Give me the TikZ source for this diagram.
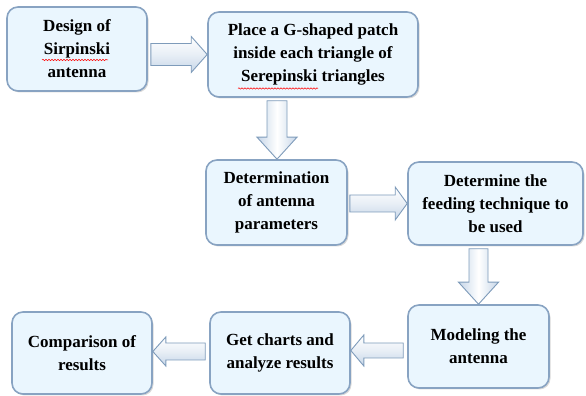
\documentclass[tikz,border=0pt]{standalone}
\usepackage{fontspec}
\setmainfont{Liberation Serif}
\usetikzlibrary{calc,shadows,decorations.pathmorphing}
\definecolor{boxfill}{HTML}{EAF6FE}
\definecolor{boxedge}{HTML}{88A3C2}
\definecolor{arrowedge}{HTML}{7E9BBA}
\definecolor{arrowfill}{HTML}{C6D6E8}
\newcommand{\rblock}[5]{% start, end, shaft half, head half, head length (horizontal)
  \draw[barrowh] let \p1=(#1), \p2=(#2) in
    (\x1,\y1+#3) -- (\x2-#5,\y1+#3) -- (\x2-#5,\y1+#4) -- (\x2,\y1)
    -- (\x2-#5,\y1-#4) -- (\x2-#5,\y1-#3) -- (\x1,\y1-#3) -- cycle;}
\newcommand{\lblock}[5]{%
  \draw[barrowh] let \p1=(#1), \p2=(#2) in
    (\x1,\y1+#3) -- (\x2+#5,\y1+#3) -- (\x2+#5,\y1+#4) -- (\x2,\y1)
    -- (\x2+#5,\y1-#4) -- (\x2+#5,\y1-#3) -- (\x1,\y1-#3) -- cycle;}
\newcommand{\dblock}[5]{%
  \draw[barrowv] let \p1=(#1), \p2=(#2) in
    (\x1-#3,\y1) -- (\x1-#3,\y2+#5) -- (\x1-#4,\y2+#5) -- (\x1,\y2)
    -- (\x1+#4,\y2+#5) -- (\x1+#3,\y2+#5) -- (\x1+#3,\y1) -- cycle;}
\tikzset{
  flowbox/.style={draw=boxedge, line width=1.6pt, fill=boxfill, rounded corners=11pt,
    align=center, inner sep=0pt,
    font=\fontsize{17}{23}\selectfont\bfseries,
    drop shadow={opacity=0.3, shadow xshift=1.5pt, shadow yshift=-1.5pt}},
  barrowh/.style={draw=arrowedge, line width=0.9pt, line join=miter,
    top color=white, bottom color=arrowfill, middle color=white!60!arrowfill},
  barrowv/.style={draw=arrowedge, line width=0.9pt, line join=miter,
    left color=arrowfill, right color=arrowfill, middle color=white},
  squiggle/.style={draw=red, line width=0.5pt,
    decorate, decoration={snake, segment length=3pt, amplitude=0.7pt}}
}
\begin{document}
\begin{tikzpicture}[x=1pt,y=1pt]
\useasboundingbox (0,0) rectangle (586,396);
\node[flowbox, minimum width=140pt, minimum height=84pt] (b1) at (77,347) {Design of\\Sirpinski\\antenna};
\node[flowbox, minimum width=210pt, minimum height=85pt] (b2) at (313,341.5) {Place a G-shaped patch\\inside each triangle of\\Serepinski triangles};
\node[flowbox, minimum width=141pt, minimum height=85pt] (b3) at (276.5,193.5) {Determination\\of antenna\\parameters};
\node[flowbox, minimum width=175pt, minimum height=83pt] (b4) at (495.5,192.5) {Determine the\\feeding technique to\\be used};
\node[flowbox, minimum width=141pt, minimum height=83pt] (b5) at (478.5,49.5) {Modeling the\\antenna};
\node[flowbox, minimum width=140pt, minimum height=82pt] (b6) at (280,43) {Get charts and\\analyze results};
\node[flowbox, minimum width=140pt, minimum height=82pt] (b7) at (82,43) {Comparison of\\results};
% squiggles
\draw[squiggle] ($(b1.center)+(-35,-11)$) -- ($(b1.center)+(31,-11)$);
\draw[squiggle] ($(b2.center)+(-75,-34)$) -- ($(b2.center)+(5,-34)$);
% block arrows
\coordinate (a1s) at ($(b1.east |- b2.west)+(3,0)$);
\rblock{a1s}{b2.west}{11}{18}{16}
\coordinate (a2s) at ($(b3.east)+(2,-1)$);
\rblock{a2s}{b4.west}{8.5}{16.5}{12}
\coordinate (d1s) at ($(b2.south -| b3.north)+(0.5,-3)$);
\dblock{d1s}{b3.north}{10}{20}{22}
\coordinate (d2s) at ($(b4.south -| b5.north)+(0,-3)$);
\dblock{d2s}{b5.north}{9.5}{20}{22}
\coordinate (l1s) at ($(b5.west)+(-4,-4)$);
\lblock{l1s}{b6.east}{7.5}{15.5}{13}
\coordinate (l2s) at ($(b6.west)+(-4,1.5)$);
\lblock{l2s}{b7.east}{8.5}{14.5}{13}
\end{tikzpicture}
\end{document}
